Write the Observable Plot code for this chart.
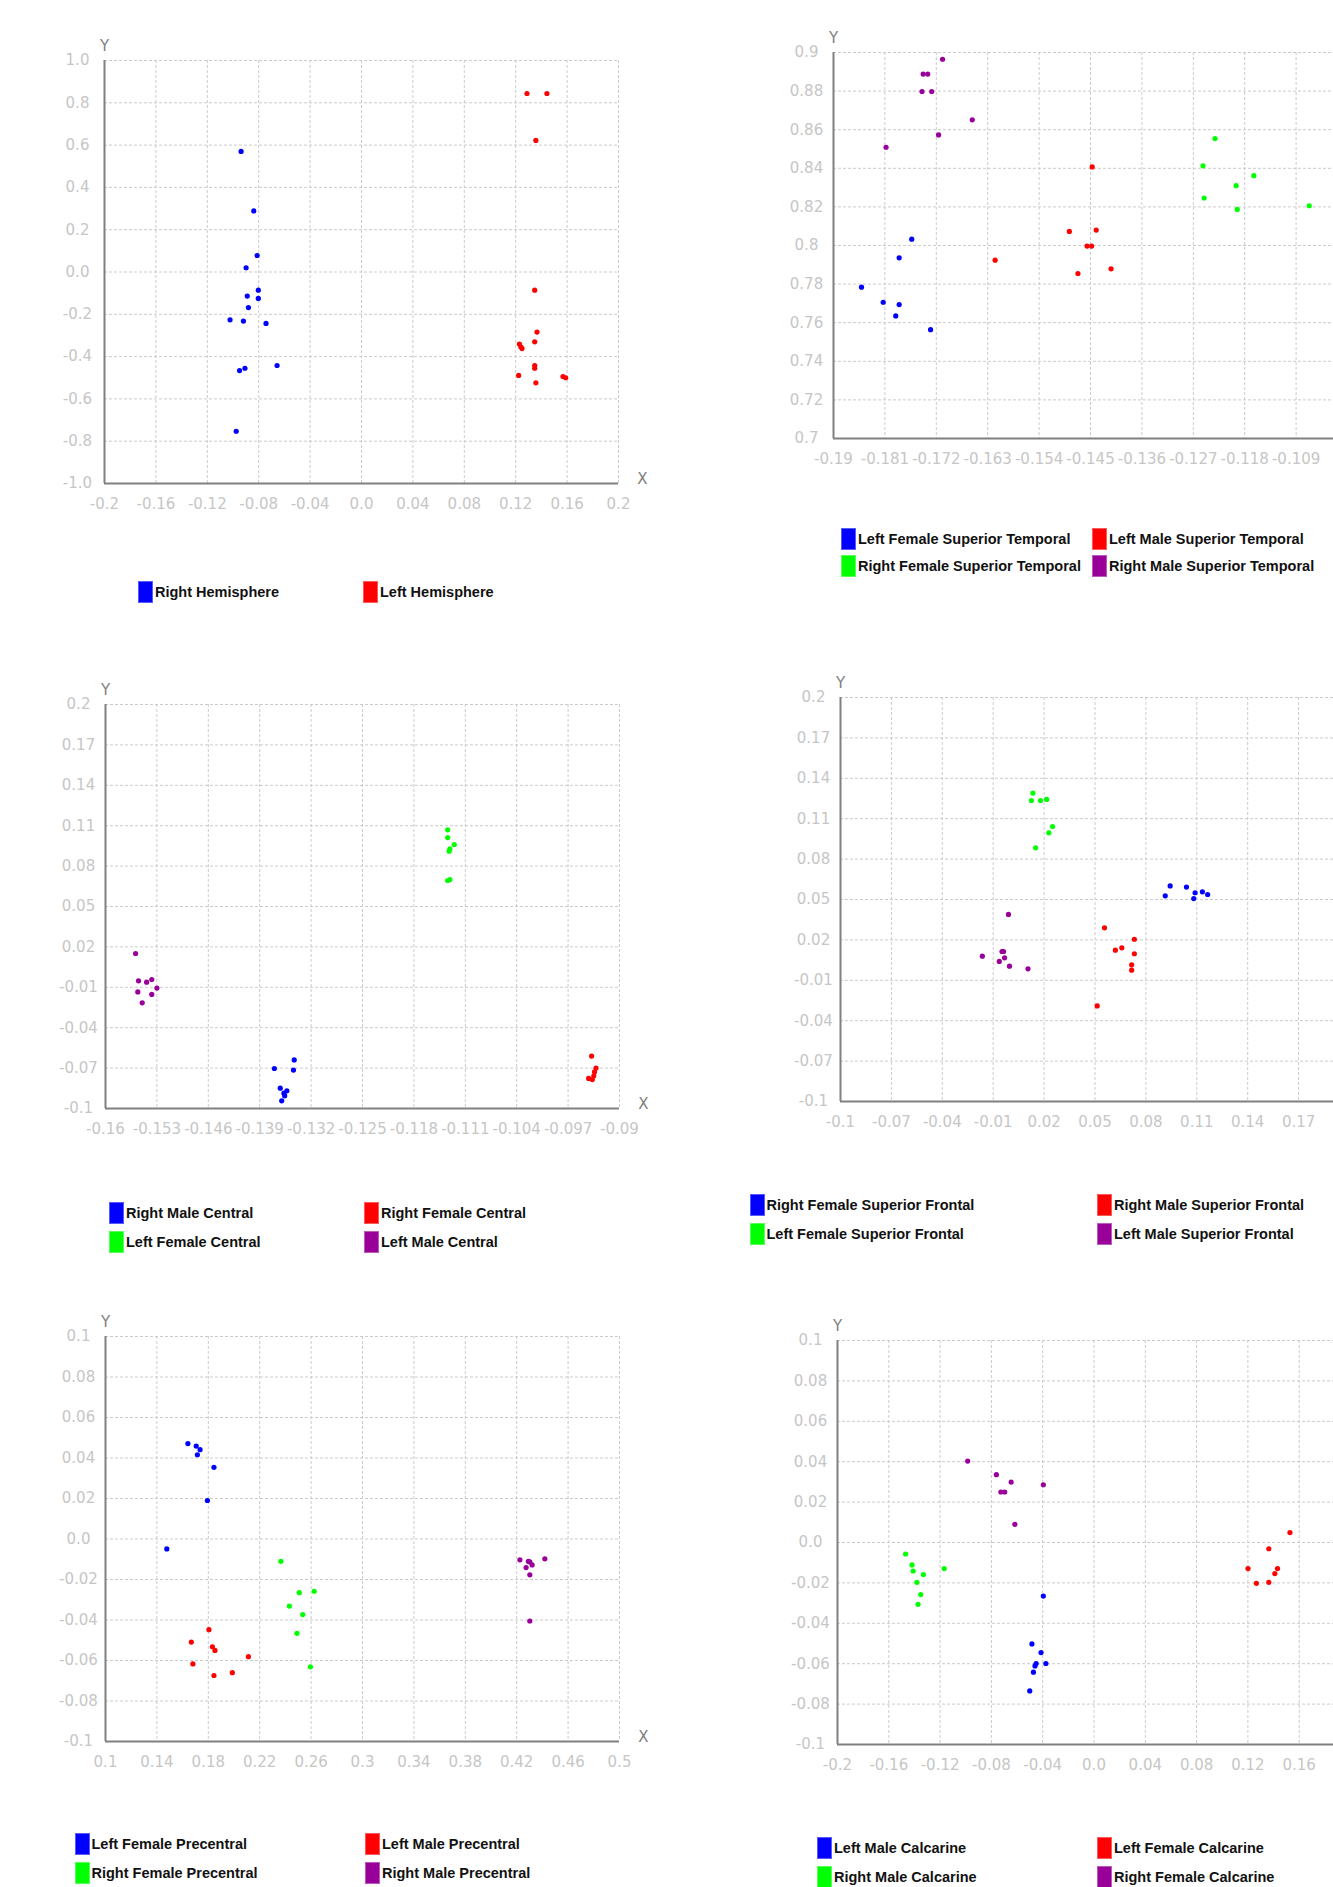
<!DOCTYPE html>
<html><head><meta charset="utf-8">
<script src="https://cdn.jsdelivr.net/npm/d3@7"></script>
<script src="https://cdn.jsdelivr.net/npm/@observablehq/plot@0.6"></script>
<style>
html,body{margin:0;padding:0;background:#fff;}
#page{position:relative;width:1333px;height:1887px;overflow:hidden;background:#fff;}
.panel{position:absolute;}
.legend-item{position:absolute;display:flex;align-items:center;font:bold 14.5px "Liberation Sans",Arial,sans-serif;color:#111;white-space:nowrap;height:22px;}
.legend-item .sw{width:15px;height:22px;margin-right:2px;box-sizing:border-box;border:1px solid rgba(255,255,255,0.35);}
</style></head><body><div id="page"></div>
<script>
// ---------- Panel 1: Hemisphere ----------
const p1Labels = ["Right Hemisphere", "Left Hemisphere"];
const p1RightHemisphere = [[-0.0937,0.570],[-0.0838,0.289],[-0.0812,0.078],[-0.0898,0.020],[-0.0803,-0.086],[-0.0889,-0.114],[-0.0803,-0.125],[-0.0880,-0.168],[-0.1023,-0.226],[-0.0919,-0.232],[-0.0743,-0.243],[-0.0657,-0.442],[-0.0907,-0.455],[-0.0949,-0.466],[-0.0975,-0.753]];
const p1LeftHemisphere = [[0.1288,0.844],[0.1443,0.844],[0.1357,0.622],[0.1348,-0.086],[0.1366,-0.284],[0.1348,-0.330],[0.1229,-0.341],[0.1240,-0.354],[0.1249,-0.362],[0.1348,-0.442],[0.1348,-0.455],[0.1223,-0.489],[0.1568,-0.494],[0.1589,-0.500],[0.1357,-0.524]];
const p1XTicks = [-0.2,-0.16,-0.12,-0.08,-0.04,0,0.04,0.08,0.12,0.16,0.2];
const p1YTicks = [-1,-0.8,-0.6,-0.4,-0.2,0,0.2,0.4,0.6,0.8,1];

// ---------- Panel 2: Superior Temporal ----------
const p2Labels = ["Left Female Superior Temporal","Left Male Superior Temporal","Right Female Superior Temporal","Right Male Superior Temporal"];
const p2LeftFemale = [[-0.1763,0.8033],[-0.1785,0.7936],[-0.1851,0.7784],[-0.1813,0.7706],[-0.1785,0.7694],[-0.1791,0.7635],[-0.1730,0.7564]];
const p2LeftMale = [[-0.1447,0.8407],[-0.1487,0.8073],[-0.1440,0.8080],[-0.1456,0.7997],[-0.1448,0.7997],[-0.1617,0.7924],[-0.1414,0.7879],[-0.1472,0.7855]];
const p2RightFemale = [[-0.1232,0.8554],[-0.1253,0.8413],[-0.1164,0.8362],[-0.1195,0.8310],[-0.1251,0.8246],[-0.1067,0.8206],[-0.1193,0.8187]];
const p2RightMale = [[-0.1709,0.8965],[-0.1743,0.8888],[-0.1735,0.8888],[-0.1745,0.8798],[-0.1728,0.8798],[-0.1657,0.8651],[-0.1716,0.8573],[-0.1808,0.8509]];
const p2XTicks = [-0.19,-0.181,-0.172,-0.163,-0.154,-0.145,-0.136,-0.127,-0.118,-0.109,-0.1];
const p2YTicks = [0.7,0.72,0.74,0.76,0.78,0.8,0.82,0.84,0.86,0.88,0.9];

// ---------- Panel 3: Central ----------
const p3Labels = ["Right Male Central","Right Female Central","Left Female Central","Left Male Central"];
const p3RightMale = [[-0.1343,-0.0639],[-0.1370,-0.0703],[-0.1344,-0.0715],[-0.1362,-0.0849],[-0.1353,-0.0869],[-0.1357,-0.0886],[-0.1356,-0.0906],[-0.1360,-0.0943]];
const p3RightFemale = [[-0.0938,-0.0611],[-0.0932,-0.0700],[-0.0934,-0.0728],[-0.0935,-0.0757],[-0.0942,-0.0777],[-0.0937,-0.0785]];
const p3LeftFemale = [[-0.1134,0.1069],[-0.1134,0.1012],[-0.1125,0.0960],[-0.1131,0.0928],[-0.1132,0.0911],[-0.1131,0.0700],[-0.1134,0.0693]];
const p3LeftMale = [[-0.1559,0.0151],[-0.1555,-0.0052],[-0.1544,-0.0062],[-0.1537,-0.0042],[-0.1530,-0.0106],[-0.1556,-0.0134],[-0.1537,-0.0153],[-0.1550,-0.0215]];
const p3XTicks = [-0.16,-0.153,-0.146,-0.139,-0.132,-0.125,-0.118,-0.111,-0.104,-0.097,-0.09];
const p3YTicks = [-0.1,-0.07,-0.04,-0.01,0.02,0.05,0.08,0.11,0.14,0.17,0.2];

// ---------- Panel 4: Superior Frontal ----------
const p4Labels = ["Right Female Superior Frontal","Right Male Superior Frontal","Left Female Superior Frontal","Left Male Superior Frontal"];
const p4RightFemale = [[0.0943,0.0601],[0.1039,0.0592],[0.0914,0.0527],[0.1090,0.0550],[0.1133,0.0557],[0.1164,0.0537],[0.1082,0.0507]];
const p4RightMale = [[0.0556,0.0290],[0.0732,0.0205],[0.0658,0.0141],[0.0620,0.0124],[0.0732,0.0097],[0.0716,0.0015],[0.0716,-0.0025],[0.0513,-0.0290]];
const p4LeftFemale = [[0.0134,0.1290],[0.0125,0.1235],[0.0179,0.1235],[0.0215,0.1243],[0.0250,0.1042],[0.0228,0.0995],[0.0150,0.0884]];
const p4LeftMale = [[-0.0010,0.0389],[-0.0048,0.0114],[-0.0039,0.0114],[-0.0164,0.0079],[-0.0033,0.0067],[-0.0064,0.0040],[-0.0004,0.0005],[0.0105,-0.0015]];
const p4XTicks = [-0.1,-0.07,-0.04,-0.01,0.02,0.05,0.08,0.11,0.14,0.17,0.2];
const p4YTicks = [-0.1,-0.07,-0.04,-0.01,0.02,0.05,0.08,0.11,0.14,0.17,0.2];

// ---------- Panel 5: Precentral ----------
const p5Labels = ["Left Female Precentral","Left Male Precentral","Right Female Precentral","Right Male Precentral"];
const p5LeftFemale = [[0.1641,0.0471],[0.1706,0.0459],[0.1736,0.0441],[0.1715,0.0416],[0.1844,0.0354],[0.1793,0.0190],[0.1477,-0.0049]];
const p5LeftMale = [[0.1805,-0.0448],[0.1668,-0.0509],[0.1832,-0.0532],[0.1852,-0.0550],[0.2112,-0.0581],[0.1680,-0.0617],[0.1987,-0.0660],[0.1844,-0.0674]];
const p5RightFemale = [[0.2365,-0.0110],[0.2624,-0.0258],[0.2508,-0.0265],[0.2431,-0.0331],[0.2535,-0.0373],[0.2490,-0.0466],[0.2595,-0.0631]];
const p5RightMale = [[0.4225,-0.0103],[0.4291,-0.0110],[0.4302,-0.0113],[0.4419,-0.0098],[0.4320,-0.0128],[0.4273,-0.0141],[0.4302,-0.0177],[0.4302,-0.0405]];
const p5XTicks = [0.1,0.14,0.18,0.22,0.26,0.3,0.34,0.38,0.42,0.46,0.5];
const p5YTicks = [-0.1,-0.08,-0.06,-0.04,-0.02,0,0.02,0.04,0.06,0.08,0.1];

// ---------- Panel 6: Calcarine ----------
const p6Labels = ["Left Male Calcarine","Left Female Calcarine","Right Male Calcarine","Right Female Calcarine"];
const p6LeftMale = [[-0.0395,-0.0265],[-0.0484,-0.0502],[-0.0413,-0.0545],[-0.0451,-0.0599],[-0.0375,-0.0599],[-0.0460,-0.0611],[-0.0472,-0.0642],[-0.0501,-0.0735]];
const p6LeftFemale = [[0.1528,0.0049],[0.1363,-0.0031],[0.1201,-0.0129],[0.1431,-0.0129],[0.1410,-0.0154],[0.1363,-0.0197],[0.1266,-0.0202]];
const p6RightMale = [[-0.1469,-0.0057],[-0.1419,-0.0111],[-0.1410,-0.0141],[-0.1330,-0.0159],[-0.1168,-0.0129],[-0.1381,-0.0197],[-0.1351,-0.0258],[-0.1372,-0.0306]];
const p6RightFemale = [[-0.0985,0.0403],[-0.0761,0.0336],[-0.0646,0.0299],[-0.0726,0.0250],[-0.0696,0.0250],[-0.0395,0.0286],[-0.0617,0.0090]];
const p6XTicks = [-0.2,-0.16,-0.12,-0.08,-0.04,0,0.04,0.08,0.12,0.16,0.2];
const p6YTicks = [-0.1,-0.08,-0.06,-0.04,-0.02,0,0.02,0.04,0.06,0.08,0.1];

// ---------- styling ----------
const palette = ["#0000ff", "#ff0000", "#00ff00", "#990099"];
const M = {left: 60, top: 40, right: 40, bottom: 40};

const panels = [
  {series: [p1RightHemisphere, p1LeftHemisphere], labels: p1Labels, xt: p1XTicks, yt: p1YTicks,
   box: [104, 60, 514, 423], legend: {cols: [138, 363], rows: [592], order: [[0,1]]}},
  {series: [p2LeftFemale, p2LeftMale, p2RightFemale, p2RightMale], labels: p2Labels, xt: p2XTicks, yt: p2YTicks,
   box: [833, 52, 514, 386], legend: {cols: [841, 1092], rows: [538.5, 565.5], order: [[0,1],[2,3]]}},
  {series: [p3RightMale, p3RightFemale, p3LeftFemale, p3LeftMale], labels: p3Labels, xt: p3XTicks, yt: p3YTicks,
   box: [105, 704, 514, 404], legend: {cols: [109, 364], rows: [1213, 1241.5], order: [[0,1],[2,3]]}},
  {series: [p4RightFemale, p4RightMale, p4LeftFemale, p4LeftMale], labels: p4Labels, xt: p4XTicks, yt: p4YTicks,
   box: [840, 697, 509, 404], legend: {cols: [749.5, 1097], rows: [1205, 1234], order: [[0,1],[2,3]]}},
  {series: [p5LeftFemale, p5LeftMale, p5RightFemale, p5RightMale], labels: p5Labels, xt: p5XTicks, yt: p5YTicks,
   box: [105, 1336, 514, 405], legend: {cols: [74.5, 365], rows: [1844, 1873], order: [[0,1],[2,3]]}},
  {series: [p6LeftMale, p6LeftFemale, p6RightMale, p6RightFemale], labels: p6Labels, xt: p6XTicks, yt: p6YTicks,
   box: [837, 1340, 513, 404], legend: {cols: [817, 1097], rows: [1848, 1877], order: [[0,1],[2,3]]}}
];

const fmt = v => { let s = String(+(+v).toFixed(4)); if (!s.includes(".")) s += ".0"; return s; };
const page = document.getElementById("page");
const tickColor = "#c6c6c6", gridColor = "#cbcbcb", axisColor = "#808080";

for (const p of panels) {
  const [L, T, W, H] = p.box;
  const rows = [];
  p.series.forEach((s, i) => s.forEach(([x, y]) => rows.push({x, y, k: i})));
  const xd = [p.xt[0], p.xt[p.xt.length - 1]];
  const yd = [p.yt[0], p.yt[p.yt.length - 1]];
  const svg = Plot.plot({
    width: W + M.left + M.right,
    height: H + M.top + M.bottom,
    marginLeft: M.left, marginRight: M.right, marginTop: M.top, marginBottom: M.bottom,
    style: {fontFamily: "DejaVu Sans, sans-serif", fontSize: "15px", background: "transparent", maxWidth: "none", overflow: "visible"},
    x: {domain: xd, axis: null, label: null},
    y: {domain: yd, axis: null, label: null},
    color: {domain: p.series.map((_, i) => i), range: palette.slice(0, p.series.length)},
    marks: [
      Plot.gridX(p.xt, {stroke: gridColor, strokeOpacity: 1, strokeDasharray: "3,2", strokeWidth: 1}),
      Plot.gridY(p.yt, {stroke: gridColor, strokeOpacity: 1, strokeDasharray: "3,2", strokeWidth: 1}),
      Plot.ruleX([xd[0]], {stroke: axisColor, strokeWidth: 2}),
      Plot.ruleY([yd[0]], {stroke: axisColor, strokeWidth: 2}),
      Plot.axisX(p.xt, {tickSize: 0, tickPadding: 21, lineAnchor: "middle", tickFormat: fmt, fill: tickColor, fontSize: 15, label: null}),
      Plot.axisY(p.yt, {tickSize: 0, tickPadding: 27, textAnchor: "middle", tickFormat: fmt, fill: tickColor, fontSize: 15, label: null}),
      Plot.dot(rows, {x: "x", y: "y", fill: d => palette[d.k], r: 2.6, stroke: null}),
      Plot.text(["Y"], {frameAnchor: "top-left", dy: -20, textAnchor: "middle", fill: axisColor, fontSize: 15}),
      Plot.text(["X"], {frameAnchor: "bottom-right", dx: 24, textAnchor: "middle", fill: axisColor, fontSize: 15})
    ]
  });
  svg.classList.add("panel");
  svg.style.left = (L - M.left) + "px";
  svg.style.top = (T - M.top) + "px";
  page.appendChild(svg);

  // legend (HTML, outside the SVG)
  p.legend.order.forEach((row, ri) => {
    row.forEach((si, ci) => {
      const item = document.createElement("div");
      item.className = "legend-item";
      item.style.left = p.legend.cols[ci] + "px";
      item.style.top = (p.legend.rows[ri] - 11) + "px";
      const sw = document.createElement("span");
      sw.className = "sw";
      sw.style.background = palette[si];
      const tx = document.createElement("span");
      tx.textContent = p.labels[si];
      item.appendChild(sw); item.appendChild(tx);
      page.appendChild(item);
    });
  });
}
</script></body></html>
